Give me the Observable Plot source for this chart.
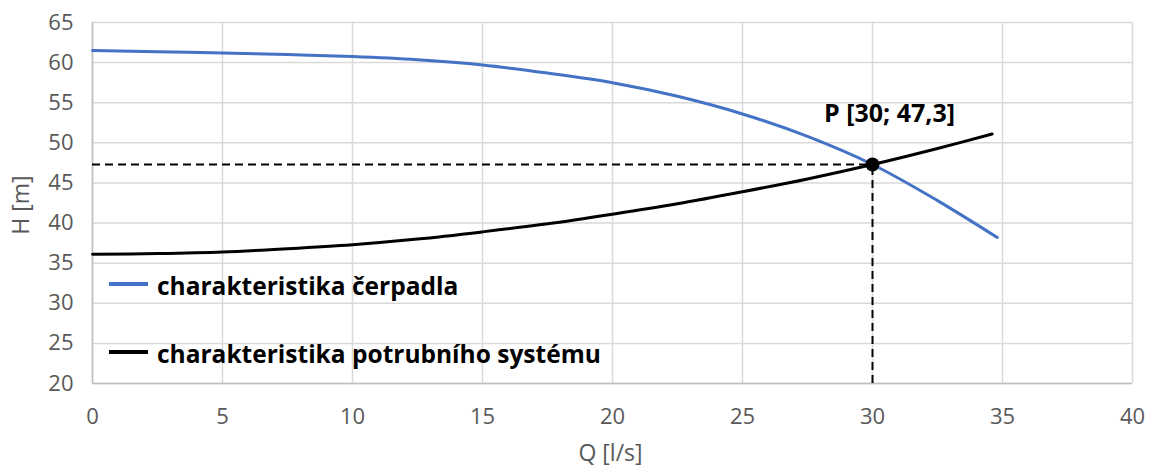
<!DOCTYPE html>
<html>
<head>
<meta charset="utf-8">
<script src="https://cdn.jsdelivr.net/npm/d3@7"></script>
<script src="https://cdn.jsdelivr.net/npm/@observablehq/plot@0.6"></script>
<style>
  html, body { margin: 0; padding: 0; background: #fff; }
  #wrap { position: relative; width: 1149px; height: 469px; font-family: "Open Sans", sans-serif; }
  .leg { position: absolute; left: 109px; height: 30px; line-height: 30px; display: flex; align-items: center; font-weight: bold; font-size: 24.5px; color: #000; white-space: nowrap; }
  .leg .sw { width: 39px; height: 4px; margin-right: 9px; }
  .leg .tx { position: relative; top: 2px; }
</style>
</head>
<body>
<div id="wrap"></div>
<script>
// Data
const pumpQ = [0, 2.5, 5, 7.5, 10, 12.5, 15, 17.5, 20, 22.5, 25, 27.5, 30, 32.5, 34.8];
const pumpH = [61.5, 61.35, 61.2, 61.0, 60.75, 60.35, 59.7, 58.7, 57.5, 55.8, 53.6, 50.8, 47.3, 42.8, 38.2];
const systemQ = [0, 2.5, 5, 7.5, 10, 12.5, 15, 17.5, 20, 22.5, 25, 27.5, 30, 32.5, 34.6];
const systemH = [36.1, 36.2, 36.4, 36.8, 37.3, 38.0, 38.9, 39.9, 41.1, 42.4, 43.9, 45.5, 47.3, 49.3, 51.1];
const opQ = 30;
const opH = 47.3;
const opLabel = "P [30; 47,3]";
const xTicks = [0, 5, 10, 15, 20, 25, 30, 35, 40];
const yTicks = [20, 25, 30, 35, 40, 45, 50, 55, 60, 65];
const seriesNames = ["charakteristika čerpadla", "charakteristika potrubního systému"];
const seriesColors = ["#4472C4", "#000000"];
const xLabel = "Q [l/s]";
const yLabel = "H [m]";

const pump = pumpQ.map((q, i) => ({Q: q, H: pumpH[i]}));
const system = systemQ.map((q, i) => ({Q: q, H: systemH[i]}));
const op = [{Q: opQ, H: opH, label: opLabel}];

const chart = Plot.plot({
  width: 1149,
  height: 469,
  marginLeft: 92,
  marginRight: 17,
  marginTop: 22,
  marginBottom: 86,
  style: {fontFamily: "'Open Sans', sans-serif", fontSize: "22px", color: "#595959", background: "#fff"},
  x: {domain: [0, 40], ticks: xTicks, tickSize: 0, tickPadding: 25, label: null},
  y: {domain: [20, 65], ticks: yTicks, tickSize: 0, tickPadding: 19, label: null},
  marks: [
    Plot.gridX(xTicks, {stroke: "#d9d9d9", strokeOpacity: 1, strokeWidth: 1.5}),
    Plot.gridY(yTicks, {stroke: "#d9d9d9", strokeOpacity: 1, strokeWidth: 1.5}),
    Plot.ruleX([0], {stroke: "#bfbfbf", strokeWidth: 1.5}),
    Plot.ruleY([20], {stroke: "#bfbfbf", strokeWidth: 1.5}),
    Plot.ruleY(op, {y: "H", x1: 0, x2: "Q", stroke: "#000", strokeWidth: 2, strokeDasharray: "8,5"}),
    Plot.ruleX(op, {x: "Q", y1: 20, y2: "H", stroke: "#000", strokeWidth: 2, strokeDasharray: "8,5"}),
    Plot.line(pump, {x: "Q", y: "H", stroke: seriesColors[0], strokeWidth: 3, curve: "catmull-rom"}),
    Plot.line(system, {x: "Q", y: "H", stroke: seriesColors[1], strokeWidth: 3, curve: "catmull-rom"}),
    Plot.dot(op, {x: "Q", y: "H", r: 7, fill: "#000", stroke: "none"}),
    Plot.text(op, {x: "Q", y: "H", text: "label", dx: 17, dy: -50, fontWeight: "bold", fontSize: 25, fill: "#000", textAnchor: "middle"}),
    Plot.text([yLabel], {frameAnchor: "left", text: d => d, textAnchor: "middle", lineAnchor: "middle", dx: -71, dy: 2, rotate: -90, fill: "#595959", fontSize: 23}),
    Plot.text([xLabel], {frameAnchor: "bottom", text: d => d, dx: -2, dy: 77, fill: "#595959", fontSize: 23})
  ]
});

const wrap = document.getElementById("wrap");
wrap.appendChild(chart);
const lineYs = [284, 352];
seriesNames.forEach((name, i) => {
  const d = document.createElement("div");
  d.className = "leg";
  d.style.top = (lineYs[i] - 15) + "px";
  const sw = document.createElement("span");
  sw.className = "sw";
  sw.style.background = seriesColors[i];
  const t = document.createElement("span");
  t.className = "tx";
  t.textContent = name;
  d.appendChild(sw);
  d.appendChild(t);
  wrap.appendChild(d);
});
</script>
</body>
</html>
